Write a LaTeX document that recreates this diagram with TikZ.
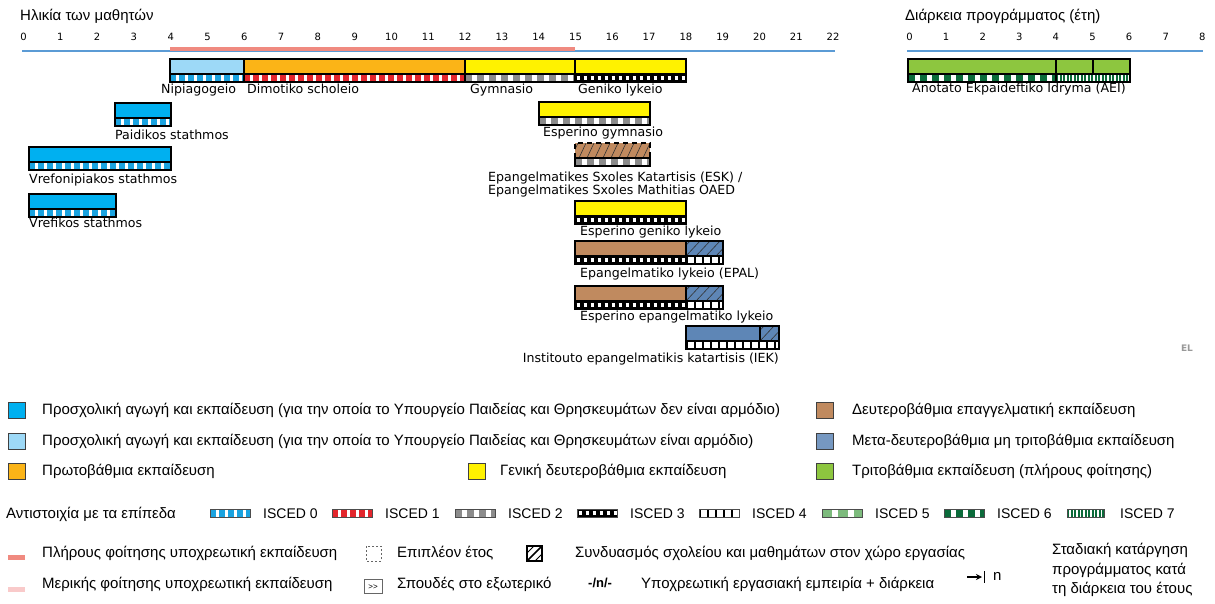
\documentclass[tikz,border=0pt]{standalone}
\usepackage{fontspec}
\setmainfont{DejaVu Sans}
\newfontfamily\legfont{Liberation Sans}
\usetikzlibrary{arrows.meta}
\definecolor{preblue}{HTML}{00B0F0}
\definecolor{lightblue}{HTML}{9DD9F7}
\definecolor{orangec}{HTML}{FBB417}
\definecolor{yellowc}{HTML}{FFF200}
\definecolor{brownc}{HTML}{C08A5F}
\definecolor{postsec}{HTML}{5E86B6}
\definecolor{greenc}{HTML}{8DC63F}
\definecolor{axisblue}{HTML}{5B9BD5}
\definecolor{compred}{HTML}{F08A80}
\definecolor{partpink}{HTML}{F9CACA}
\definecolor{iscA}{HTML}{1AA3E0}
\definecolor{iscB}{HTML}{E3262C}
\definecolor{iscC}{HTML}{8C8C8C}
\definecolor{iscE}{HTML}{7DBB7D}
\definecolor{dkgreen}{HTML}{0B6B3A}
\tikzset{
  isc0/.style={draw=iscA, line width=8pt, dash pattern=on 6pt off 3pt},
  isc1/.style={draw=iscB, line width=8pt, dash pattern=on 6pt off 3pt},
  isc2/.style={draw=iscC, line width=8pt, dash pattern=on 7pt off 5pt},
  isc3/.style={draw=white, line width=4pt, dash pattern=on 3.5pt off 3.5pt, dash phase=-1.5pt},
  isc4/.style={draw=black, line width=8pt, dash pattern=on 1.5pt off 6.5pt},
  isc5/.style={draw=iscE, line width=8pt, dash pattern=on 10pt off 6pt},
  isc6/.style={draw=dkgreen, line width=8pt, dash pattern=on 7pt off 5pt},
  isc7/.style={draw=dkgreen, line width=8pt, dash pattern=on 2pt off 1.5pt},
  border/.style={draw=black, line width=1.3pt},
  lab/.style={font=\fontsize{12.6}{14.5}\selectfont, anchor=base west, inner sep=0pt},
  tick/.style={font=\fontsize{10}{12}\selectfont, inner sep=0pt},
  leg/.style={font=\legfont\fontsize{15}{17}\selectfont, anchor=west, inner sep=0pt},
  isclab/.style={font=\legfont\fontsize{14}{16}\selectfont, anchor=west, inner sep=0pt},
  legsq/.style={draw=black!75, line width=0.8pt},
  hatchline/.style={draw=black!80, line width=0.6pt}
}
% strip: x1, x2, ytop, background, style
\newcommand{\edustrip}[5]{%
  \fill[#4] (#1,#3) rectangle (#2,#3+8);
  \begin{scope}
    \clip (#1,#3) rectangle (#2,#3+8);
    \draw[#5, line cap=butt] (#1,#3+4) -- (#2,#3+4);
  \end{scope}}
% hatch: x1, x2, ytop, ybot, spacing, horizontal run
\newcommand{\eduhatch}[6]{%
  \begin{scope}
    \clip (#1,#3) rectangle (#2,#4);
    \foreach \k in {0,...,30}{\draw[hatchline] (#1-20+\k*#5,#4) -- (#1-20+\k*#5+#6,#3);}
  \end{scope}}
\begin{document}
\begin{tikzpicture}[x=1pt,y=-1pt]
\useasboundingbox (0,0) rectangle (1215,604);
\fill[white] (0,0) rectangle (1215,604);

% ---------- titles and axes
\node[leg] (agetitle) at (20,16) {Ηλικία των μαθητών};
\node[leg] (durtitle) at (905,16) {Διάρκεια προγράμματος (έτη)};
\foreach \i in {0,...,22}{\node[tick] (t\i) at (23.5+36.8*\i,37) {\i};}
\foreach \i in {0,...,8}{\node[tick] (d\i) at (909.5+36.6*\i,37) {\i};}
\draw[axisblue, line width=1.5pt] (22,51) -- (835,51);
\draw[compred, line width=4pt] (170,49) -- (575,49);
\draw[axisblue, line width=1.5pt] (907,51) -- (1203,51);

% ---------- row A: Nipiagogeio, Dimotiko, Gymnasio, Geniko lykeio
\fill[lightblue] (170,59) rectangle (244,74);
\fill[orangec] (244,59) rectangle (465,74);
\fill[yellowc] (465,59) rectangle (686,74);
\edustrip{170}{244}{74}{white}{isc0}
\edustrip{244}{465}{74}{white}{isc1}
\edustrip{465}{575}{74}{white}{isc2}
\edustrip{575}{686}{74}{black}{isc3}
\draw[border] (170,59) rectangle (686,82);
\draw[border] (170,74) -- (686,74);
\draw[border] (244,59) -- (244,82);
\draw[border] (465,59) -- (465,82);
\draw[border] (575,59) -- (575,82);
\node[lab] (nip) at (161,94) {Nipiagogeio};
\node[lab] (dim) at (247,94) {Dimotiko scholeio};
\node[lab] (gym) at (470,94) {Gymnasio};
\node[lab] (gen) at (578,94) {Geniko lykeio};

% ---------- Paidikos stathmos
\fill[preblue] (115,103) rectangle (171,118);
\edustrip{115}{171}{118}{white}{isc0}
\draw[border] (115,103) rectangle (171,126);
\draw[border] (115,118) -- (171,118);
\node[lab] (paid) at (115,140) {Paidikos stathmos};

% ---------- Vrefonipiakos stathmos
\fill[preblue] (29,147) rectangle (171,162);
\edustrip{29}{171}{162}{white}{isc0}
\draw[border] (29,147) rectangle (171,170);
\draw[border] (29,162) -- (171,162);
\node[lab] (vrefon) at (29,184) {Vrefonipiakos stathmos};

% ---------- Vrefikos stathmos
\fill[preblue] (29,194) rectangle (116,209);
\edustrip{29}{116}{209}{white}{isc0}
\draw[border] (29,194) rectangle (116,217);
\draw[border] (29,209) -- (116,209);
\node[lab] (vref) at (29,228) {Vrefikos stathmos};

% ---------- Esperino gymnasio
\fill[yellowc] (539,102) rectangle (650,117);
\edustrip{539}{650}{117}{white}{isc2}
\draw[border] (539,102) rectangle (650,125);
\draw[border] (539,117) -- (650,117);
\node[lab] (espgym) at (543,137) {Esperino gymnasio};

% ---------- ESK
\fill[brownc] (575,143) rectangle (650,158);
\eduhatch{575}{650}{143}{158}{8}{7}
\draw[black, line width=1.8pt, dash pattern=on 5pt off 4pt] (575,158) -- (575,143) -- (650,143) -- (650,158);
\edustrip{575}{650}{158}{white}{isc2}
\draw[border] (575,158) rectangle (650,166);
\node[lab] (esk1) at (488,182) {Epangelmatikes Sxoles Katartisis (ESK) /};
\node[lab] (esk2) at (488,195) {Epangelmatikes Sxoles Mathitias OAED};

% ---------- Esperino geniko lykeio
\fill[yellowc] (575,201) rectangle (686,216);
\edustrip{575}{686}{216}{black}{isc3}
\draw[border] (575,201) rectangle (686,224);
\draw[border] (575,216) -- (686,216);
\node[lab] (espgen) at (580,236) {Esperino geniko lykeio};

% ---------- EPAL
\fill[brownc] (575,241) rectangle (686,256);
\fill[postsec] (686,241) rectangle (723,256);
\eduhatch{686}{723}{241}{256}{10}{14}
\edustrip{575}{686}{256}{black}{isc3}
\edustrip{686}{723}{256}{white}{isc4}
\draw[border] (575,241) rectangle (723,264);
\draw[border] (575,256) -- (723,256);
\draw[border] (686,241) -- (686,256);
\node[lab] (epal) at (580,277) {Epangelmatiko lykeio (EPAL)};

% ---------- Esperino epangelmatiko lykeio
\fill[brownc] (575,286) rectangle (686,301);
\fill[postsec] (686,286) rectangle (723,301);
\eduhatch{686}{723}{286}{301}{10}{14}
\edustrip{575}{686}{301}{black}{isc3}
\edustrip{686}{723}{301}{white}{isc4}
\draw[border] (575,286) rectangle (723,309);
\draw[border] (575,301) -- (723,301);
\draw[border] (686,286) -- (686,301);
\node[lab] (espepal) at (580,320) {Esperino epangelmatiko lykeio};

% ---------- IEK
\fill[postsec] (686,326) rectangle (779,341);
\eduhatch{760}{779}{326}{341}{10}{14}
\edustrip{686}{779}{341}{white}{isc4}
\draw[border] (686,326) rectangle (779,349);
\draw[border] (686,341) -- (779,341);
\draw[border] (760,326) -- (760,341);
\node[lab, anchor=base east] (iek) at (779,362) {Institouto epangelmatikis katartisis (IEK)};

% ---------- AEI
\fill[greenc] (908,59) rectangle (1130,74);
\edustrip{908}{1056}{74}{white}{isc6}
\edustrip{1056}{1130}{74}{white}{isc7}
\draw[border] (908,59) rectangle (1130,82);
\draw[border] (908,74) -- (1130,74);
\draw[border] (1056,59) -- (1056,82);
\draw[border] (1093,59) -- (1093,74);
\node[lab] (aei) at (912,93) {Anotato Ekpaideftiko Idryma (AEI)};

\node[font=\fontsize{9}{10}\selectfont\bfseries, text=black!40, inner sep=0pt] (el) at (1187,348) {EL};

% ---------- legend colours
\draw[legsq, fill=preblue] (8,402) rectangle (25,418);
\node[leg] (l1) at (42,410) {Προσχολική αγωγή και εκπαίδευση (για την οποία το Υπουργείο Παιδείας και Θρησκευμάτων δεν είναι αρμόδιο)};
\draw[legsq, fill=lightblue] (8,433) rectangle (25,449);
\node[leg] (l2) at (42,441) {Προσχολική αγωγή και εκπαίδευση (για την οποία το Υπουργείο Παιδείας και Θρησκευμάτων είναι αρμόδιο)};
\draw[legsq, fill=orangec] (8,463) rectangle (25,479);
\node[leg] (l3) at (42,471) {Πρωτοβάθμια εκπαίδευση};
\draw[legsq, fill=yellowc] (468,463) rectangle (485,479);
\node[leg] (l4) at (500,471) {Γενική δευτεροβάθμια εκπαίδευση};
\draw[legsq, fill=brownc] (816,402) rectangle (833,418);
\node[leg] (l5) at (852,410) {Δευτεροβάθμια επαγγελματική εκπαίδευση};
\draw[legsq, fill=postsec!85!white] (816,433) rectangle (833,449);
\node[leg] (l6) at (852,441) {Μετα-δευτεροβάθμια μη τριτοβάθμια εκπαίδευση};
\draw[legsq, fill=greenc] (816,463) rectangle (833,479);
\node[leg] (l7) at (852,471) {Τριτοβάθμια εκπαίδευση (πλήρους φοίτησης)};

% ---------- ISCED legend
\node[leg] (corr) at (6,514) {Αντιστοιχία με τα επίπεδα};
\edustrip{210}{250}{509}{white}{isc0}\draw[black!70, line width=0.6pt] (210,509) rectangle (250,517);
\node[isclab] (i0) at (263,514) {ISCED 0};
\edustrip{332}{372}{509}{white}{isc1}\draw[black!70, line width=0.6pt] (332,509) rectangle (372,517);
\node[isclab] (i1) at (385,514) {ISCED 1};
\edustrip{455}{495}{509}{white}{isc2}\draw[black!70, line width=0.6pt] (455,509) rectangle (495,517);
\node[isclab] (i2) at (508,514) {ISCED 2};
\edustrip{577}{617}{509}{black}{isc3}\draw[black!70, line width=0.6pt] (577,509) rectangle (617,517);
\node[isclab] (i3) at (630,514) {ISCED 3};
\edustrip{699}{739}{509}{white}{isc4}\draw[black!70, line width=0.6pt] (699,509) rectangle (739,517);
\node[isclab] (i4) at (752,514) {ISCED 4};
\edustrip{822}{862}{509}{white}{isc5}\draw[black!70, line width=0.6pt] (822,509) rectangle (862,517);
\node[isclab] (i5) at (875,514) {ISCED 5};
\edustrip{944}{984}{509}{white}{isc6}\draw[black!70, line width=0.6pt] (944,509) rectangle (984,517);
\node[isclab] (i6) at (997,514) {ISCED 6};
\edustrip{1067}{1104}{509}{white}{isc7}\draw[black!70, line width=0.6pt] (1067,509) rectangle (1104,517);
\node[isclab] (i7) at (1120,514) {ISCED 7};

% ---------- other symbols
\fill[compred] (8,555) rectangle (25,560);
\node[leg] (full) at (42,553) {Πλήρους φοίτησης υποχρεωτική εκπαίδευση};
\fill[partpink] (8,587) rectangle (25,592);
\node[leg] (part) at (42,584) {Μερικής φοίτησης υποχρεωτική εκπαίδευση};
\draw[black!60, line width=0.6pt, dash pattern=on 2pt off 2pt] (366,546) rectangle (381,561);
\node[leg] (extra) at (397,553) {Επιπλέον έτος};
\draw[black, line width=1.3pt] (527,546) rectangle (542,561);
\draw[black, line width=1.6pt] (527,561) -- (542,546);
\draw[black, line width=0.8pt] (527,553) -- (534,546);
\draw[black, line width=0.8pt] (535,561) -- (542,554);
\node[leg] (combo) at (575,553) {Συνδυασμός σχολείου και μαθημάτων στον χώρο εργασίας};
\draw[black!60, line width=0.6pt] (364,579) rectangle (382,593);
\node[font=\legfont\fontsize{8}{9}\selectfont, inner sep=0pt] (abroadsym) at (373,587) {>>};
\node[leg] (abroad) at (397,584) {Σπουδές στο εξωτερικό};
\node[font=\legfont\bfseries\fontsize{13}{15}\selectfont, inner sep=0pt, anchor=west] (wrk) at (588,583) {-/n/-};
\node[leg] (work) at (641,584) {Υποχρεωτική εργασιακή εμπειρία + διάρκεια};
\coordinate (arrS) at (967,577);
\coordinate (arrE) at (982,577);
\draw[black, line width=1.4pt, -{Stealth[length=6pt,width=6pt]}] (arrS) -- (arrE);
\draw[black, line width=1.6pt] (984.5,571) -- (984.5,583);
\node[leg] (phasen) at (993,576) {n};
\node[leg, align=left, anchor=north west] (phasetxt) at (1052,543) {Σταδιακή κατάργηση\\[3pt]προγράμματος κατά\\[2pt]τη διάρκεια του έτους};
\end{tikzpicture}
\end{document}
